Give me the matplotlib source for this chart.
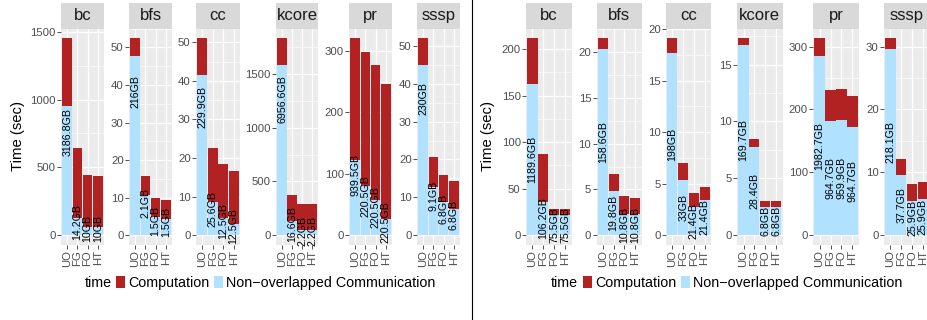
import matplotlib
matplotlib.use("Agg")
import matplotlib.pyplot as plt
from matplotlib.lines import Line2D
from matplotlib.patches import Patch
from matplotlib.ticker import MultipleLocator

plt.rcParams['font.family'] = ['Liberation Sans', 'DejaVu Sans']

algorithms = ["bc", "bfs", "cc", "kcore", "pr", "sssp"]
systems = ["UO", "FG", "FO", "HT"]

# left chart: seconds per part, one row per algorithm
left_comm = [[952, 125, 60, 62],
             [47.7, 10.6, 4.8, 4.3],
             [41.5, 8.6, 4.5, 3.0],
             [1584, 129, 51, 51],
             [123, 80, 58, 26],
             [45, 12.8, 8.7, 6.8]]
left_comp = [[499, 519, 385, 373],
             [4.7, 5.1, 5.2, 5.0],
             [9.5, 14.1, 13.9, 13.7],
             [248, 245, 239, 239],
             [197.6, 218, 219, 221],
             [7.0, 7.9, 7.1, 7.5]]
left_volume = [["3186.8GB", "14.2GB", "10GB", "10GB"],
               ["216GB", "2.1GB", "1.5GB", "1.5GB"],
               ["229.9GB", "25.6GB", "12.5GB", "12.5GB"],
               ["6956.6GB", "16.6GB", "2.2GB", "2.2GB"],
               ["939.5GB", "220.5GB", "220.5GB", "220.5GB"],
               ["230GB", "9.1GB", "6.8GB", "6.8GB"]]
left_steps = [500, 10, 10, 500, 100, 10]

# right chart
right_comm = [[162.4, 35.8, 21.5, 21.5],
              [20.3, 4.78, 2.28, 2.28],
              [17.7, 5.35, 2.75, 3.45],
              [16.7, 7.76, 2.5, 2.5],
              [285, 181.6, 183, 172],
              [29.6, 9.6, 5.5, 5.7]]
right_comp = [[49.1, 51.2, 6.1, 6.1],
              [1.2, 1.85, 1.96, 1.82],
              [1.4, 1.62, 1.35, 1.19],
              [0.6, 0.74, 0.5, 0.5],
              [28, 49.4, 49, 49.5],
              [1.7, 2.55, 2.7, 2.7]]
right_volume = [["1189.6GB", "106.2GB", "75.5GB", "75.5GB"],
                ["158.6GB", "19.8GB", "10.8GB", "10.8GB"],
                ["198GB", "33GB", "21.4GB", "21.4GB"],
                ["169.7GB", "28.4GB", "6.8GB", "6.8GB"],
                ["1982.7GB", "964.7GB", "959.9GB", "964.7GB"],
                ["218.1GB", "37.7GB", "25.9GB", "25.9GB"]]
right_steps = [50, 5, 5, 5, 100, 10]

RED = "#B22222"
BLUE = "#B0E2FF"
W, H = 928, 320

fig = plt.figure(figsize=(W / 100, H / 100), dpi=100)


def px_axes(x0, x1, y0, y1):
    return fig.add_axes([x0 / W, 1 - y1 / H, (x1 - x0) / W, (y1 - y0) / H])


def draw_chart(spans, comm, comp, volume, steps, label_frac, ylab_x):
    for i, algo in enumerate(algorithms):
        x0, x1 = spans[i]
        strip = px_axes(x0, x1, 3.3, 28.6)
        strip.set_facecolor("#D9D9D9")
        strip.set_xticks([])
        strip.set_yticks([])
        for s in strip.spines.values():
            s.set_visible(False)
        strip.text(0.5, 0.5, algo, ha="center", va="center", fontsize=12,
                   color="#1A1A1A", transform=strip.transAxes)

        ax = px_axes(x0, x1, 28.6, 245)
        ax.set_facecolor("#EBEBEB")
        pos = list(range(len(systems)))
        tops = [c + p for c, p in zip(comm[i], comp[i])]
        ax.bar(pos, comm[i], width=0.93, color=BLUE, zorder=2)
        ax.bar(pos, comp[i], bottom=comm[i], width=0.93, color=RED, zorder=2)
        for j in pos:
            ax.text(j, comm[i][j] * label_frac, volume[i][j], rotation=90,
                    ha="center", va="center", fontsize=7.7, color="black",
                    zorder=3)
        top = max(tops)
        ax.set_ylim(-0.05 * top, 1.05 * top)
        ax.set_xlim(-0.6, len(systems) - 0.4)
        ax.yaxis.set_major_locator(MultipleLocator(steps[i]))
        ax.yaxis.set_minor_locator(MultipleLocator(steps[i] / 2))
        ax.set_xticks(pos)
        ax.set_xticklabels(systems, rotation=90)
        ax.grid(which="major", color="white", lw=0.9, zorder=0)
        ax.grid(which="minor", axis="y", color="white", lw=0.45, zorder=0)
        ax.set_axisbelow(True)
        ax.tick_params(which="major", length=2.6, width=0.6, color="#333333",
                       labelcolor="#4D4D4D", labelsize=8.2, pad=1.2)
        ax.tick_params(which="minor", length=0)
        for s in ax.spines.values():
            s.set_visible(False)

    fig.text(ylab_x / W, 1 - 136 / H, "Time (sec)", rotation=90,
             ha="center", va="center", fontsize=10.7)


left_spans = [(61, 104), (129, 172), (196, 240), (276, 318), (349, 392), (417, 460)]
right_spans = [(526, 571.5), (596.5, 641.5), (666, 711), (737, 782.5),
               (813, 859), (884, 929.5)]

draw_chart(left_spans, left_comm, left_comp, left_volume, left_steps, 0.8, 18)
draw_chart(right_spans, right_comm, right_comp, right_volume, right_steps, 0.5, 488.5)

handles = [Patch(facecolor=RED), Patch(facecolor=BLUE)]
names = ["Computation", "Non\u2212overlapped Communication"]
for cx, tx in [(276, 98), (743, 564)]:
    fig.legend(handles, names, loc="center", bbox_to_anchor=(cx / W, 1 - 283 / H),
               ncol=2, frameon=False, fontsize=10.3, handlelength=0.6,
               handleheight=0.95, handletextpad=0.25, columnspacing=0.3,
               borderpad=0, borderaxespad=0)
    fig.text(tx / W, 1 - 283 / H, "time", ha="center", va="center", fontsize=10.3)

fig.add_artist(Line2D([472 / W, 472 / W], [0, 1], color="black", lw=0.8))

fig.savefig("out.png", dpi=100)
